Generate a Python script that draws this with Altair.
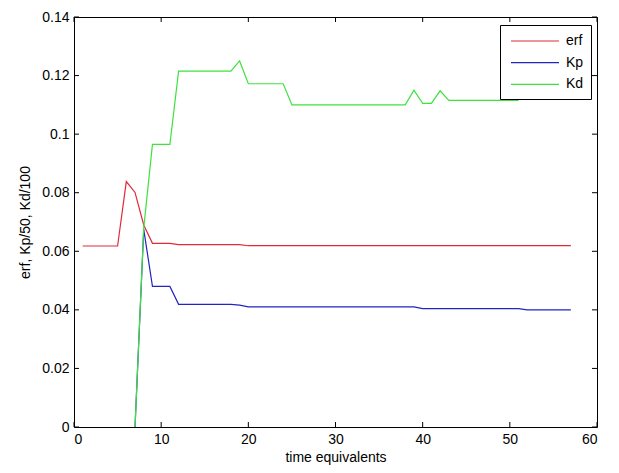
import altair as alt
import pandas as pd

# ---- data ----
t_erf = list(range(1, 58))
erf_vals = ([0.0618] * 5 + [0.0838, 0.0801, 0.069] + [0.0627] * 3 + [0.0623] * 8 + [0.0619] * 38)

t_kp = list(range(7, 58))
kp_vals = ([0.0, 0.0675] + [0.048] * 3 + [0.0419] * 7 + [0.0416] + [0.0410] * 20
           + [0.0404] * 12 + [0.0400] * 6)

t_kd = list(range(7, 52))
kd_vals = ([0.0, 0.068] + [0.0965] * 3 + [0.1215] * 7 + [0.1250] + [0.1172] * 5
           + [0.1100] * 14 + [0.1150, 0.1105, 0.1105, 0.1148] + [0.1115] * 9)

series_names = ["erf", "Kp", "Kd"]
series_colors = ["#e02a36", "#2424c0", "#3ee23e"]

x_ticks = [0, 10, 20, 30, 40, 50, 60]
y_ticks = [0, 0.02, 0.04, 0.06, 0.08, 0.10, 0.12, 0.14]

rows = []
for name, ts, vs in (("erf", t_erf, erf_vals), ("Kp", t_kp, kp_vals), ("Kd", t_kd, kd_vals)):
    for t, v in zip(ts, vs):
        rows.append({"t": t, "v": v, "series": name})
df = pd.DataFrame(rows)

W, H = 523, 410
FONT = "Liberation Sans"
FS = 14

xscale = alt.Scale(domain=[0, 60], nice=False, zero=False)
yscale = alt.Scale(domain=[0, 0.14], nice=False)
xaxis = alt.Axis(values=x_ticks, ticks=False, domain=False, grid=False,
                 labelPadding=5, titlePadding=4, format="d",
                 labelFont=FONT, labelFontSize=FS, labelColor="black",
                 titleFont=FONT, titleFontSize=FS, titleFontWeight="normal", titleColor="black")
yaxis = alt.Axis(values=y_ticks, ticks=False, domain=False, grid=False,
                 labelPadding=5, titlePadding=9, format="~r",
                 labelFont=FONT, labelFontSize=FS, labelColor="black",
                 titleFont=FONT, titleFontSize=FS, titleFontWeight="normal", titleColor="black")
XT = "time equivalents"
YT = "erf, Kp/50, Kd/100"

lines = alt.Chart(df).mark_line(strokeWidth=1.2, clip=True).encode(
    x=alt.X("t:Q", scale=xscale, title=XT, axis=xaxis),
    y=alt.Y("v:Q", scale=yscale, title=YT, axis=yaxis),
    color=alt.Color("series:N",
                    scale=alt.Scale(domain=series_names, range=series_colors),
                    legend=alt.Legend(title=None, orient="none", legendX=426, legendY=8,
                                      strokeColor="black", fillColor="white",
                                      padding=7, symbolType="M-3,0H3", symbolSize=256,
                                      symbolStrokeWidth=1.2, symbolOffset=19,
                                      labelOffset=22, rowPadding=5.7,
                                      labelFont=FONT, labelFontSize=FS,
                                      labelColor="black")),
    order=alt.Order("t:Q"),
    detail="series:N",
)

xt = pd.DataFrame({"t": x_ticks})
yt = pd.DataFrame({"v": y_ticks})

xt_bottom = alt.Chart(xt).mark_rule(color="black", strokeWidth=1).encode(
    x=alt.X("t:Q", scale=xscale, title=XT, axis=xaxis), y=alt.value(H), y2=alt.value(H - 5))
xt_top = alt.Chart(xt).mark_rule(color="black", strokeWidth=1).encode(
    x=alt.X("t:Q", scale=xscale, title=XT, axis=xaxis), y=alt.value(0), y2=alt.value(5))
yt_left = alt.Chart(yt).mark_rule(color="black", strokeWidth=1).encode(
    y=alt.Y("v:Q", scale=yscale, title=YT, axis=yaxis), x=alt.value(0), x2=alt.value(5))
yt_right = alt.Chart(yt).mark_rule(color="black", strokeWidth=1).encode(
    y=alt.Y("v:Q", scale=yscale, title=YT, axis=yaxis), x=alt.value(W - 5), x2=alt.value(W))

chart = alt.layer(lines, xt_bottom, xt_top, yt_left, yt_right).properties(
    width=W, height=H, background="white",
    padding={"left": 10, "top": 2, "right": 5, "bottom": 5}
).configure_view(stroke="black", strokeWidth=1)

chart.save("out.html", embed_options={"renderer": "svg", "actions": False})
